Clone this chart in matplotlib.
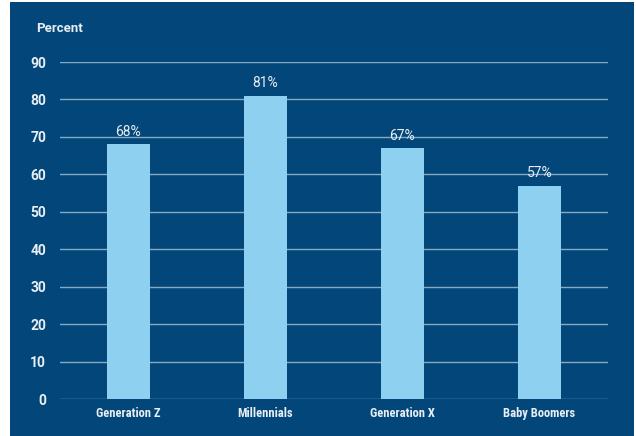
import matplotlib.pyplot as plt
from matplotlib.patches import Rectangle
from matplotlib import font_manager

# data
categories = ['Generation Z', 'Millennials', 'Generation X', 'Baby Boomers']
values = [68, 81, 67, 57]
labels = ['68%', '81%', '67%', '57%']
yticks = [0, 10, 20, 30, 40, 50, 60, 70, 80, 90]

panel = '#03477a'
bar_color = '#8dd0f0'
grid_color = '#86a9c4'
text_color = '#e8eef4'

# look for a narrow font, fall back to DejaVu
names = {f.name for f in font_manager.fontManager.ttflist}
narrow = 'DejaVu Sans'
for cand in ['Liberation Sans Narrow', 'DejaVu Sans Condensed', 'Roboto Condensed']:
    if cand in names:
        narrow = cand
        break
plain = ['Roboto', 'DejaVu Sans']

fig = plt.figure(figsize=(6.36, 4.36), dpi=100, facecolor='white')
fig.patches.append(Rectangle((10 / 636, 0), 624 / 636, 434 / 436,
                             transform=fig.transFigure, facecolor=panel,
                             edgecolor='none', zorder=-10))

ax = fig.add_axes([60 / 636, 1 - 399 / 436, 548 / 636, 337 / 436])
ax.set_facecolor('none')
x = range(len(categories))
ax.bar(x, values, width=0.31, color=bar_color, zorder=3)
for xi, v, lab in zip(x, values, labels):
    ax.text(xi, v + 1.5, lab, ha='center', va='bottom', color=text_color,
            fontsize=10, family=plain, zorder=4)

ax.set_xlim(-0.5, 3.5)
ax.set_ylim(0, 90)
ax.set_yticks(yticks)
ax.yaxis.grid(True, color=grid_color, linewidth=1.0, zorder=1)
for s in ax.spines.values():
    s.set_visible(False)
ax.tick_params(axis='both', length=0, colors=text_color)
ax.tick_params(axis='y', pad=10)
ax.tick_params(axis='x', pad=6)
ax.set_xticks(list(x))
ax.set_xticklabels(categories, family=narrow, fontstretch='condensed',
                   fontweight='bold', fontsize=9)
for t in ax.get_yticklabels():
    t.set_fontweight('bold')
    t.set_fontsize(10)
    t.set_family(plain)

fig.text(36 / 636, 1 - 29 / 436, 'Percent', color=text_color, fontsize=9.5,
         family=plain, fontweight='bold', va='center', ha='left')

fig.savefig('out.png', dpi=100, facecolor='white')
